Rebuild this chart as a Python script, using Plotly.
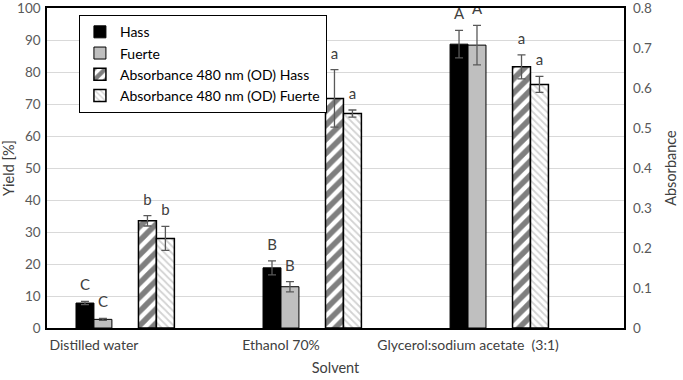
import numpy as np
import plotly.graph_objects as go

categories = ["Distilled water", "Ethanol 70%", "Glycerol:sodium acetate  (3:1)"]
yield_hass = [7.8, 18.8, 88.7]
yield_hass_err = [0.5, 2.2, 4.3]
yield_fuerte = [2.7, 12.9, 88.4]
yield_fuerte_err = [0.3, 1.6, 6.2]
abs_hass = [0.268, 0.574, 0.653]
abs_hass_err = [0.013, 0.072, 0.030]
abs_fuerte = [0.224, 0.536, 0.609]
abs_fuerte_err = [0.030, 0.009, 0.020]
letters_yield_hass = ["C", "B", "A"]
letters_yield_fuerte = ["C", "B", "A"]
letters_abs_hass = ["b", "a", "a"]
letters_abs_fuerte = ["b", "a", "a"]

FONT = "Lato"
idx = np.arange(len(categories))
W = 0.096
off = {"h": -0.048, "f": 0.048, "ah": 0.286, "af": 0.382}
err_style = dict(type="data", color="#595959", thickness=1.3, width=4)

fig = go.Figure()
fig.add_bar(x=idx + off["h"], y=yield_hass, width=W, name="Hass",
            marker=dict(color="black", line=dict(color="black", width=1)),
            error_y=dict(array=yield_hass_err, **err_style))
fig.add_bar(x=idx + off["f"], y=yield_fuerte, width=W, name="Fuerte",
            marker=dict(color="#bfbfbf", line=dict(color="black", width=1)),
            error_y=dict(array=yield_fuerte_err, **err_style))
fig.add_bar(x=idx + off["ah"], y=abs_hass, width=W, name="Absorbance 480 nm (OD) Hass",
            yaxis="y2",
            marker=dict(color="white", line=dict(color="black", width=1.5),
                        pattern=dict(shape="/", fgcolor="black", bgcolor="white",
                                     size=10, solidity=0.55)),
            error_y=dict(array=abs_hass_err, **err_style))
fig.add_bar(x=idx + off["af"], y=abs_fuerte, width=W, name="Absorbance 480 nm (OD) Fuerte",
            yaxis="y2",
            marker=dict(color="white", line=dict(color="black", width=1.5),
                        pattern=dict(shape="\\", fgcolor="#a6a6a6", bgcolor="white",
                                     size=5, solidity=0.35)),
            error_y=dict(array=abs_fuerte_err, **err_style))

text_font = dict(family=FONT, size=15, color="#404040")
def add_letters(xs, tops, labels, yaxis="y"):
    fig.add_scatter(x=xs, y=tops, text=labels, mode="markers+text",
                    textposition="top center", yaxis=yaxis,
                    marker=dict(size=10, opacity=0), textfont=text_font,
                    showlegend=False, hoverinfo="skip")

add_letters(idx + off["h"], np.add(yield_hass, yield_hass_err), letters_yield_hass)
add_letters(idx + off["f"], np.add(yield_fuerte, yield_fuerte_err), letters_yield_fuerte)
add_letters(idx + off["ah"], np.add(abs_hass, abs_hass_err), letters_abs_hass, "y2")
add_letters(idx + off["af"], np.add(abs_fuerte, abs_fuerte_err), letters_abs_fuerte, "y2")

tick_font = dict(family=FONT, size=13.5, color="#595959")
title_font = dict(family=FONT, size=14.5, color="#404040")
fig.update_layout(
    width=683, height=380,
    margin=dict(l=47, r=59, t=8, b=52),
    paper_bgcolor="white", plot_bgcolor="white",
    barmode="overlay",
    font=dict(family=FONT),
    xaxis=dict(range=[-0.251, 2.834], tickvals=idx, ticktext=categories,
               tickfont=dict(family=FONT, size=14, color="#404040"),
               showgrid=False, zeroline=False, ticks="", automargin=False,
               ticklabelstandoff=3,
               showline=True, linecolor="black", linewidth=1.5, mirror=True,
               title=dict(text="Solvent", font=title_font, standoff=11)),
    yaxis=dict(range=[0, 100], dtick=10, tickfont=tick_font, automargin=False,
               showgrid=True, gridcolor="#d9d9d9", gridwidth=1.3, zeroline=False,
               showline=True, linecolor="black", linewidth=1.5, mirror=True,
               ticks="", ticklabelstandoff=2, ticklabeloverflow="allow",
               title=dict(text="Yield [%]", font=title_font, standoff=2)),
    yaxis2=dict(range=[0, 0.8], dtick=0.1, overlaying="y", side="right",
                tickfont=tick_font, showgrid=False, zeroline=False, ticks="",
                tickformat="~g", automargin=False, ticklabelstandoff=8,
                ticklabeloverflow="allow",
                title=dict(text="Absorbance", font=title_font, standoff=14)),
    legend=dict(x=0.055, y=0.978, xanchor="left", yanchor="top",
                bgcolor="white", bordercolor="black", borderwidth=1.2,
                font=dict(family=FONT, size=14, color="black"),
                tracegroupgap=0, itemwidth=30),
)
fig.write_html("out.html", config={"displayModeBar": False},
               post_script="document.body.style.margin='0';")
